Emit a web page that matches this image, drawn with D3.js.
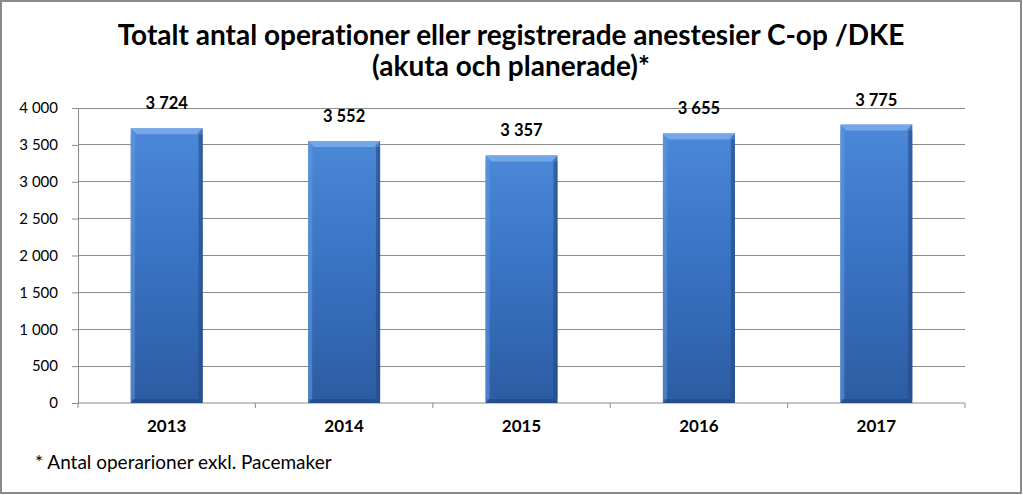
<!DOCTYPE html>
<html><head><meta charset="utf-8">
<script src="https://cdn.jsdelivr.net/npm/d3@7"></script>
<style>
html,body{margin:0;padding:0;background:#fff;}
svg{display:block;}
text{font-variant-ligatures:none;}
</style></head>
<body>
<svg id="chart" width="1023" height="495"></svg>
<script>
const categories = ["2013","2014","2015","2016","2017"];
const values = [3724, 3552, 3357, 3655, 3775];
const yTicks = [0,500,1000,1500,2000,2500,3000,3500,4000];
const titleLines = ["Totalt antal operationer eller registrerade anestesier C-op /DKE","(akuta och planerade)*"];
const footnote = "* Antal operarioner exkl. Pacemaker";

const W = 1023, H = 495;
const m = {left:78, right:965, top:108, bottom:403};
const svg = d3.select("#chart");
const font = "Lato, 'Open Sans', sans-serif";

const fmt = v => d3.format(",")(v).replace(/,/g, " ");

const x = d3.scaleBand().domain(categories).range([m.left, m.right]).paddingInner(0.594).paddingOuter(0.297);
const y = d3.scaleLinear().domain([0,4000]).range([m.bottom, m.top]);

// defs
const defs = svg.append("defs");
const g1 = defs.append("linearGradient").attr("id","barV").attr("x1",0).attr("y1",0).attr("x2",0).attr("y2",1);
g1.append("stop").attr("offset","0%").attr("stop-color","#4c88d8");
g1.append("stop").attr("offset","45%").attr("stop-color","#3a74c4");
g1.append("stop").attr("offset","100%").attr("stop-color","#2c5ca2");
const g2 = defs.append("linearGradient").attr("id","barH").attr("x1",0).attr("y1",0).attr("x2",1).attr("y2",0);
g2.append("stop").attr("offset","0%").attr("stop-color","#ffffff").attr("stop-opacity",0.12);
g2.append("stop").attr("offset","8%").attr("stop-color","#ffffff").attr("stop-opacity",0.0);
g2.append("stop").attr("offset","92%").attr("stop-color","#000000").attr("stop-opacity",0.0);
g2.append("stop").attr("offset","100%").attr("stop-color","#000000").attr("stop-opacity",0.15);

// border
svg.append("rect").attr("x",1).attr("y",1).attr("width",W-3).attr("height",H-3)
  .attr("fill","#fff").attr("stroke","#8a8a8a").attr("stroke-width",2);

// title
svg.append("text").attr("x", 511).attr("y", 45).attr("text-anchor","middle")
  .attr("font-family",font).attr("font-weight","bold").attr("font-size",28).attr("fill","#000")
  .text(titleLines[0]);
svg.append("text").attr("x", 511).attr("y", 76).attr("text-anchor","middle")
  .attr("font-family",font).attr("font-weight","bold").attr("font-size",28).attr("fill","#000")
  .text(titleLines[1]);

// gridlines
svg.append("g").selectAll("line").data(yTicks.filter(d=>d>0)).join("line")
  .attr("x1",m.left).attr("x2",m.right).attr("y1",d=>y(d)).attr("y2",d=>y(d))
  .attr("stroke","#8c8c8c").attr("stroke-width",1).attr("shape-rendering","crispEdges");

// y axis
const yAxis = d3.axisLeft(y).tickValues(yTicks).tickSize(6).tickPadding(14).tickFormat(fmt);
const ya = svg.append("g").attr("transform",`translate(${m.left},0)`).call(yAxis);
ya.select(".domain").attr("stroke","#8c8c8c");
ya.selectAll(".tick line").attr("stroke","#8c8c8c");
ya.selectAll("text").attr("font-family",font).attr("font-size",15).attr("fill","#000");

// x axis
const xa = svg.append("g").attr("transform",`translate(0,${m.bottom})`);
xa.append("line").attr("x1",m.left).attr("x2",m.right).attr("y1",0).attr("y2",0).attr("stroke","#8c8c8c");
const step = x.step();
const bounds = d3.range(categories.length+1).map(i => m.left + i*step);
xa.selectAll("line.tk").data(bounds).join("line").attr("class","tk")
  .attr("x1",d=>d).attr("x2",d=>d).attr("y1",0).attr("y2",5).attr("stroke","#8c8c8c");
xa.selectAll("text").data(categories).join("text")
  .attr("x",d=>x(d)+x.bandwidth()/2).attr("y",29).attr("text-anchor","middle")
  .attr("font-family",font).attr("font-weight","bold").attr("font-size",17).attr("fill","#000")
  .text(d=>d);

// bars
const data = categories.map((c,i)=>({c, v: values[i]}));
const bars = svg.append("g").selectAll("g").data(data).join("g");
bars.append("rect").attr("x",d=>x(d.c)).attr("y",d=>y(d.v)).attr("width",x.bandwidth())
  .attr("height",d=>y(0)-y(d.v)).attr("fill","url(#barV)");
bars.append("rect").attr("x",d=>x(d.c)).attr("y",d=>y(d.v)).attr("width",x.bandwidth())
  .attr("height",d=>y(0)-y(d.v)).attr("fill","url(#barH)");
// top bevel
bars.append("path").attr("d",d=>{
  const x0=x(d.c), x1=x0+x.bandwidth(), t=y(d.v), b=6;
  return `M${x0},${t}L${x1},${t}L${x1-b},${t+b}L${x0+b},${t+b}Z`;
}).attr("fill","#79aaea").attr("opacity",0.9);
// bottom bevel
bars.append("path").attr("d",d=>{
  const x0=x(d.c), x1=x0+x.bandwidth(), bt=y(0), b=4;
  return `M${x0},${bt}L${x1},${bt}L${x1-b},${bt-b}L${x0+b},${bt-b}Z`;
}).attr("fill","#234c88").attr("opacity",0.85);
// left/right bevels
bars.append("rect").attr("x",d=>x(d.c)).attr("y",d=>y(d.v)+6).attr("width",4)
  .attr("height",d=>Math.max(0,y(0)-y(d.v)-10)).attr("fill","#5a92dc").attr("opacity",0.55);
bars.append("rect").attr("x",d=>x(d.c)+x.bandwidth()-4).attr("y",d=>y(d.v)+6).attr("width",4)
  .attr("height",d=>Math.max(0,y(0)-y(d.v)-10)).attr("fill","#264f8c").attr("opacity",0.6);

// value labels
svg.append("g").selectAll("text").data(data).join("text")
  .attr("x",d=>x(d.c)+x.bandwidth()/2).attr("y",d=>y(d.v)-19)
  .attr("text-anchor","middle").attr("font-family",font).attr("font-weight","bold")
  .attr("font-size",16.5).attr("fill","#000").text(d=>fmt(d.v));

// footnote
svg.append("text").attr("x",35).attr("y",469).attr("font-family",font).attr("font-size",19)
  .attr("fill","#000").text(footnote);
</script>
</body></html>
